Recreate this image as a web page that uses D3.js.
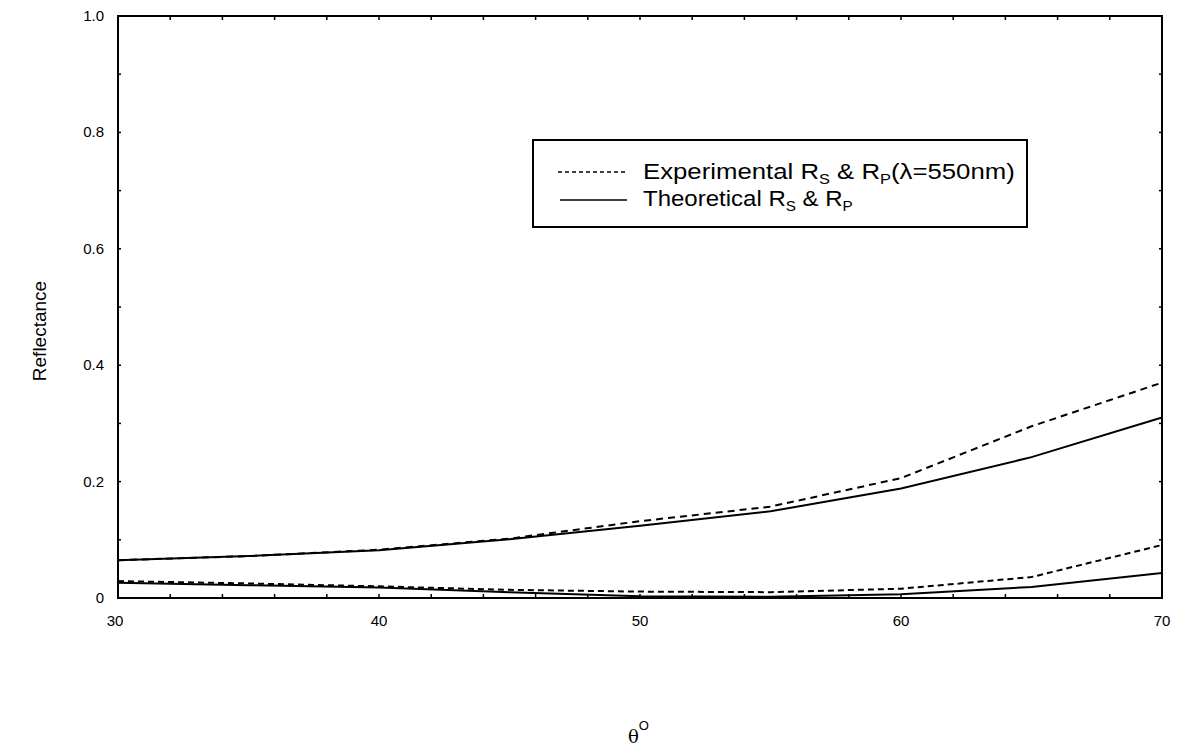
<!DOCTYPE html>
<html>
<head>
<meta charset="utf-8">
<script src="https://cdn.jsdelivr.net/npm/d3@7"></script>
<style>
  html, body { margin: 0; padding: 0; background: #fff; }
  svg { display: block; }
  text { font-family: "Liberation Sans", Arial, sans-serif; fill: #000; }
</style>
</head>
<body>
<svg id="chart" width="1177" height="747"></svg>
<script>
// Incidence angle (degrees)
const angles = [30, 35, 40, 45, 50, 55, 60, 65, 70];
// Upper pair of curves
const expUpper  = [0.065, 0.072, 0.083, 0.102, 0.132, 0.157, 0.206, 0.295, 0.370];
const theoUpper = [0.065, 0.072, 0.082, 0.101, 0.124, 0.149, 0.188, 0.242, 0.310];
// Lower pair of curves
const expLower  = [0.029, 0.025, 0.020, 0.014, 0.011, 0.010, 0.016, 0.036, 0.091];
const theoLower = [0.026, 0.022, 0.018, 0.010, 0.003, 0.002, 0.0065, 0.019, 0.043];

const xTicks = [30, 40, 50, 60, 70];
const yTicks = [0, 0.2, 0.4, 0.6, 0.8, 1.0];
const yTickLabels = ["0", "0.2", "0.4", "0.6", "0.8", "1.0"];

const svg = d3.select("#chart");
const L = 118, R = 1162, T = 16, B = 598;

const x = d3.scaleLinear().domain([30, 70]).range([L, R]);
const y = d3.scaleLinear().domain([0, 1]).range([B, T]);

// Frame
svg.append("rect")
  .attr("x", L).attr("y", T).attr("width", R - L).attr("height", B - T)
  .attr("fill", "none").attr("stroke", "#000").attr("stroke-width", 2);

// Minor inward ticks
const xMinor = d3.range(32, 70, 2);
svg.append("g").selectAll("line").data(xMinor).join("line")
  .attr("x1", d => x(d)).attr("x2", d => x(d))
  .attr("y1", B).attr("y2", B - 4)
  .attr("stroke", "#000").attr("stroke-width", 1.5);
svg.append("g").selectAll("line").data(xMinor).join("line")
  .attr("x1", d => x(d)).attr("x2", d => x(d))
  .attr("y1", T).attr("y2", T + 4)
  .attr("stroke", "#000").attr("stroke-width", 1.5);
const yMinor = d3.range(0.1, 1.0, 0.1);
svg.append("g").selectAll("line").data(yMinor).join("line")
  .attr("x1", L).attr("x2", L + 3)
  .attr("y1", d => y(d)).attr("y2", d => y(d))
  .attr("stroke", "#000").attr("stroke-width", 1.5);
svg.append("g").selectAll("line").data(yMinor).join("line")
  .attr("x1", R).attr("x2", R - 3)
  .attr("y1", d => y(d)).attr("y2", d => y(d))
  .attr("stroke", "#000").attr("stroke-width", 1.5);

// Tick labels
svg.append("g").selectAll("text").data(yTicks).join("text")
  .attr("x", L - 14).attr("y", d => y(d) + 5)
  .attr("text-anchor", "end")
  .attr("font-size", 15)
  .text((d, i) => yTickLabels[i]);

svg.append("g").selectAll("text").data(xTicks).join("text")
  .attr("x", d => x(d) - (d === 30 ? 3 : 0)).attr("y", 626)
  .attr("text-anchor", "middle")
  .attr("font-size", 15)
  .text(d => d);

// Axis titles
svg.append("text")
  .attr("transform", "translate(46,331) rotate(-90)")
  .attr("text-anchor", "middle")
  .attr("font-size", 19)
  .text("Reflectance");

const xt = svg.append("text")
  .attr("x", 628).attr("y", 743)
  .attr("font-size", 18);
xt.append("tspan").attr("font-family", "DejaVu Serif, Liberation Serif, serif").text("θ");
xt.append("tspan").attr("dy", -13).attr("font-size", 13).text("O");

// Curves
const line = (vals) => d3.line()
  .x((d, i) => x(angles[i]))
  .y(d => y(d))
  .curve(d3.curveLinear)(vals);

const curves = [
  { vals: theoUpper, dash: null },
  { vals: expUpper, dash: "7,5" },
  { vals: theoLower, dash: null },
  { vals: expLower, dash: "6,4" }
];
svg.append("g").selectAll("path").data(curves).join("path")
  .attr("d", d => line(d.vals))
  .attr("fill", "none")
  .attr("stroke", "#000")
  .attr("stroke-width", 2)
  .attr("stroke-dasharray", d => d.dash);

// Legend
const lg = svg.append("g");
lg.append("rect")
  .attr("x", 533).attr("y", 140).attr("width", 494).attr("height", 87)
  .attr("fill", "#fff").attr("stroke", "#000").attr("stroke-width", 2);
lg.append("line")
  .attr("x1", 558).attr("x2", 627).attr("y1", 172).attr("y2", 172)
  .attr("stroke", "#000").attr("stroke-width", 1.5).attr("stroke-dasharray", "4,3");
lg.append("line")
  .attr("x1", 560).attr("x2", 627).attr("y1", 200).attr("y2", 200)
  .attr("stroke", "#000").attr("stroke-width", 1.5);

function legendText(baseY, parts, targetW) {
  const t = lg.append("text").attr("x", 0).attr("y", 0).attr("font-size", 22);
  parts.forEach(p => {
    const s = t.append("tspan").text(p.t);
    if (p.sub) s.attr("font-size", 14).attr("dy", 5);
    if (p.back) s.attr("dy", -5);
  });
  const w = t.node().getComputedTextLength();
  t.attr("transform", `translate(643,${baseY}) scale(${targetW / w},1)`);
}
legendText(179, [
  { t: "Experimental R" }, { t: "S", sub: true }, { t: " & R", back: true },
  { t: "P", sub: true }, { t: "(λ=550nm)", back: true }
], 372);
legendText(206, [
  { t: "Theoretical R" }, { t: "S", sub: true }, { t: " & R", back: true },
  { t: "P", sub: true }
], 210);
</script>
</body>
</html>
